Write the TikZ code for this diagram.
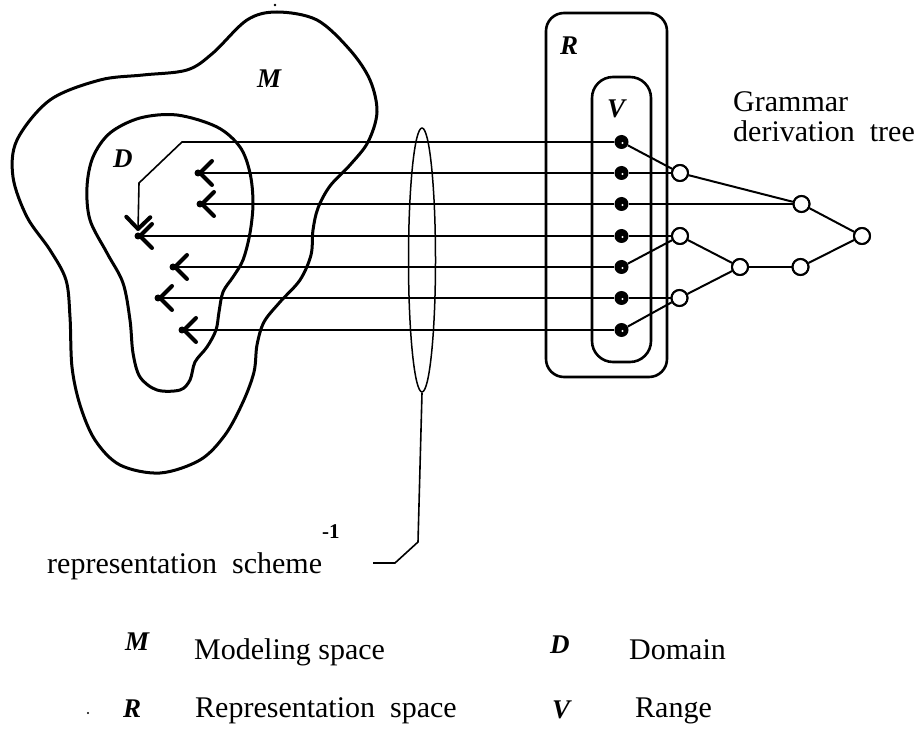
\documentclass[tikz,border=0pt]{standalone}
\usepackage{fontspec}
\setmainfont{Liberation Serif}
\usetikzlibrary{arrows.meta,shapes.geometric}

\begin{document}
\begin{tikzpicture}[x=1pt,y=-1pt,
  blob/.style={line width=3pt, line join=round},
  spacebox/.style={draw, line width=2.6pt, rounded corners=#1, inner sep=0pt},
  ray/.style={line width=1.6pt},
  rayarrow/.style={ray, -{Straight Barb[length=12pt,width=24pt,line width=4pt 0 1,round]}},
  leaf/.style={circle, fill=black, minimum size=14pt, inner sep=0pt},
  tnode/.style={circle, draw, fill=white, line width=2pt, minimum size=16pt, inner sep=0pt},
  treeline/.style={line width=2pt},
  txt/.style={font=\fontsize{30}{36}\selectfont, anchor=base west, inner sep=0pt},
  sym/.style={font=\fontsize{27}{30}\selectfont\bfseries\itshape, anchor=base west, inner sep=0pt},
  speck/.style={fill=white},
]
\useasboundingbox (0,0) rectangle (921,735);

% modeling space M
\draw[blob] plot[smooth cycle, tension=0.55] coordinates {
  (277,12) (317,20) (350,50) (370,80) (377,112) (368,142) (350,165)
  (330,186) (318,208) (313,230) (311,255) (300,280) (280,302) (264,322)
  (257,345) (254,372) (243,402) (225,435) (200,460) (160,473) (120,465)
  (95,440) (80,405) (72,367) (70,317) (66,280) (50,250) (27,217)
  (13,177) (17,140) (50,100) (100,80) (143,75) (187,70) (213,53) (247,20)};

% domain D
\draw[blob] plot[smooth cycle, tension=0.55] coordinates {
  (177,115) (217,127) (240,147) (250,173) (253,203) (250,233) (243,260)
  (233,277) (223,292) (219,312) (216,330) (207,347) (195,362) (190,380)
  (180,390) (157,390) (140,377) (133,353) (130,320) (123,283) (107,253)
  (90,220) (87,187) (93,157) (110,133) (140,118)};

% stray specks of ink
\fill (275,5) circle (1.3pt);
\fill (88,713) circle (1.2pt);

% representation space R and range V
\node[spacebox=18pt, minimum width=121pt, minimum height=364pt] (Rbox) at (606.5,195) {};
\node[spacebox=21pt, minimum width=59pt, minimum height=285pt] (Vbox) at (621.5,219.5) {};

% region labels
\node[sym] (labM) at (257,88) {M};
\node[sym] (labD) at (113,168) {D};
\node[sym] (labR) at (560,55) {R};
\node[sym] (labV) at (607,118) {V};

% leaves of the derivation tree, inside V
\foreach \i/\y in {1/142,2/173,3/204,4/236,5/267,6/298,7/330}{
  \node[leaf] (v\i) at (621.5,\y) {};
  \fill[speck] ([shift={(1pt,-1pt)}]v\i.center) circle (1.1pt);
}

% inner nodes of the derivation tree
\node[tnode] (n1) at (680,173) {};
\node[tnode] (n2) at (801.5,204) {};
\node[tnode] (root) at (862,236) {};
\node[tnode] (n3) at (680,236) {};
\node[tnode] (n4) at (740,267) {};
\node[tnode] (n5) at (800.5,267) {};
\node[tnode] (n6) at (679.5,298) {};

% arrow end points in the domain
\coordinate (b1a) at (182,142);
\coordinate (b1b) at (139,183);
\coordinate (t1) at (138,231);
\coordinate (t2) at (198,173);
\coordinate (t3) at (200,204);
\coordinate (t4) at (138,236);
\coordinate (t5) at (173,267);
\coordinate (t6) at (158,298);
\coordinate (t7) at (182,330);

% inverse mapping from V back into D
\draw[rayarrow] (v1.west) -- (b1a) -- (b1b) -- (t1);
\foreach \i in {2,...,7}{
  \draw[rayarrow] (v\i.west) -- (t\i);
  \fill (t\i) circle (3.5pt);
}

% tree edges
\draw[treeline] (v1) -- (n1);
\draw[ray] (v2.east) -- (n1.west);
\draw[ray] (v3.east) -- (n2.west);
\draw[ray] (v4.east) -- (n3.west);
\draw[treeline] (v5) -- (n3);
\draw[ray] (v6.east) -- (n6.west);
\draw[treeline] (v7) -- (n6);
\draw[treeline] (n1) -- (n2);
\draw[treeline] (n2) -- (root);
\draw[treeline] (n3) -- (n4);
\draw[treeline] (n6) -- (n4);
\draw[treeline] (n4) -- (n5);
\draw[treeline] (n5) -- (root);

% redraw nodes over the connectors
\foreach \n in {n1,n2,root,n3,n4,n5,n6}{
  \fill[white] (\n) circle (7pt);
  \draw[line width=2pt] (\n) circle (8pt);
}

% lens marking the representation scheme
\node[draw, ellipse, line width=1.5pt, minimum width=27pt, minimum height=264pt, inner sep=0pt] (lens) at (422,260) {};
\coordinate (k1) at (418,542);
\coordinate (k2) at (395,563);
\coordinate (k3) at (373,563);
\draw[ray] (lens.south) -- (k1) -- (k2) -- (k3);

% captions
\node[txt] (gram) at (733,112) {Grammar};
\node[txt] (deriv) at (733,142) {derivation\ \ tree};
\node[txt] (scheme) at (47,573) {representation\ \ scheme};
\node[font=\fontsize{21}{24}\selectfont\bfseries, anchor=base west, inner sep=0pt] (inv) at (322,538) {-1};

% legend
\node[sym] (keyM) at (125,650) {M};
\node[txt] (keyMt) at (194,659) {Modeling space};
\node[sym] (keyR) at (123,717) {R};
\node[txt] (keyRt) at (195,717) {Representation\ \ space};
\node[sym] (keyD) at (550,653) {D};
\node[txt] (keyDt) at (629,659) {Domain};
\node[sym] (keyV) at (552,718) {V};
\node[txt] (keyVt) at (635,717) {Range};
\end{tikzpicture}
\end{document}
